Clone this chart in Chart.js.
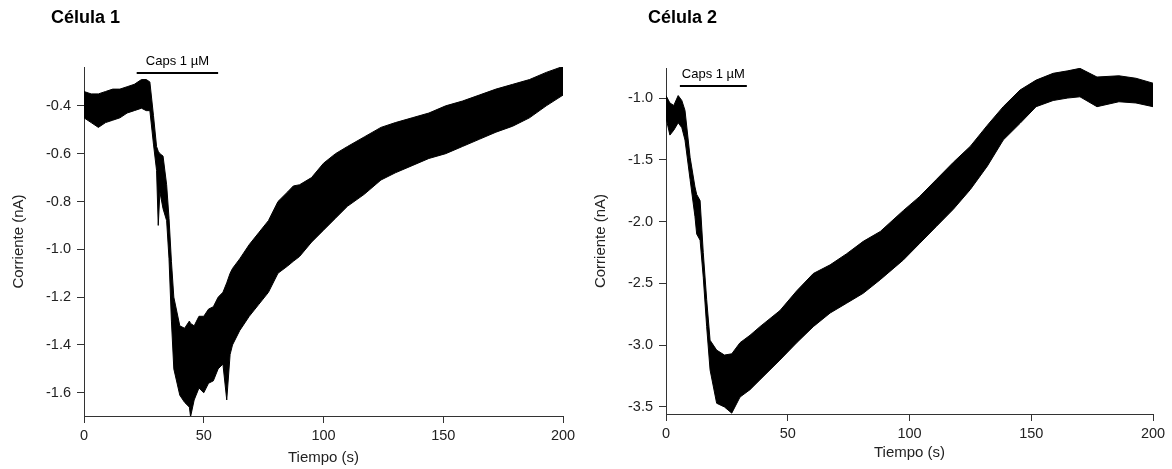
<!DOCTYPE html>
<html>
<head>
<meta charset="utf-8">
<script src="https://cdn.jsdelivr.net/npm/chart.js@4/dist/chart.umd.min.js"></script>
<style>
  body { margin: 0; background: #fff; }
  #wrap { position: relative; width: 1172px; height: 469px; }
  canvas { position: absolute; top: 0; }
</style>
</head>
<body>
<div id="wrap">
  <canvas id="cell1" width="586" height="469" style="left:0px"></canvas>
  <canvas id="cell2" width="586" height="469" style="left:586px"></canvas>
</div>
<script>
  // Célula 1: upper / lower edge of the noisy current trace
  const time1  = [0, 3, 6, 9, 12, 15, 18, 21, 24, 26, 27.5, 29, 30.3, 31, 31.7, 33, 34.5, 35.5, 36.5, 37.5,
                  40, 42, 44, 44.5, 46, 48, 50, 52, 54, 56, 58, 59.6, 61, 62, 65, 69, 73, 77, 81, 85, 87.4, 90, 95,
                  100, 105, 110, 117, 124, 130, 137, 144, 151, 158, 165, 172, 179, 186, 193, 200];
  const upper1 = [-0.34, -0.35, -0.35, -0.34, -0.33, -0.33, -0.32, -0.31, -0.29, -0.29, -0.30, -0.44, -0.57, -0.59, -0.60, -0.61, -0.73, -0.87, -1.05, -1.20,
                  -1.32, -1.33, -1.30, -1.31, -1.32, -1.28, -1.28, -1.25, -1.24, -1.20, -1.18, -1.14, -1.10, -1.08, -1.04, -0.98, -0.93, -0.88, -0.80, -0.76, -0.735, -0.73, -0.70,
                  -0.64, -0.60, -0.57, -0.53, -0.49, -0.47, -0.45, -0.43, -0.40, -0.38, -0.355, -0.33, -0.31, -0.29, -0.26, -0.235];
  const lower1 = [-0.45, -0.47, -0.49, -0.47, -0.46, -0.45, -0.43, -0.42, -0.41, -0.42, -0.42, -0.56, -0.67, -0.90, -0.76, -0.83, -0.88, -1.04, -1.30, -1.50,
                  -1.61, -1.64, -1.66, -1.70, -1.63, -1.58, -1.60, -1.56, -1.55, -1.50, -1.48, -1.63, -1.44, -1.40, -1.34, -1.28, -1.23, -1.18, -1.10, -1.07, -1.05, -1.03, -0.97,
                  -0.92, -0.87, -0.82, -0.77, -0.71, -0.68, -0.65, -0.62, -0.60, -0.57, -0.54, -0.51, -0.485, -0.45, -0.40, -0.355];
  const yTicks1 = [-0.4, -0.6, -0.8, -1.0, -1.2, -1.4, -1.6];
  const caps1 = [22, 56];

  // Célula 2
  const time2  = [0, 1.6, 3.2, 5, 6.5, 7.8, 9.9, 11.9, 12.6, 14, 15.3, 16.7, 18.1, 20.8, 24, 27, 30.4, 34.5, 38.6,
                  46.8, 53.7, 60.5, 67.4, 74.2, 81, 88, 97.5, 104, 111, 118, 125, 132, 138.5, 145.4,
                  152, 159, 165, 170, 177, 186, 193, 200];
  const upper2 = [-0.98, -1.04, -1.06, -0.98, -1.02, -1.10, -1.48, -1.72, -1.78, -1.83, -2.25, -2.63, -2.96, -3.04, -3.08, -3.07, -2.98, -2.92, -2.85,
                  -2.72, -2.56, -2.42, -2.35, -2.26, -2.16, -2.08, -1.91, -1.80, -1.66, -1.52, -1.39, -1.22, -1.07, -0.935,
                  -0.855, -0.80, -0.78, -0.76, -0.83, -0.82, -0.84, -0.88];
  const lower2 = [-1.16, -1.30, -1.26, -1.20, -1.24, -1.34, -1.66, -1.96, -2.10, -2.15, -2.45, -2.85, -3.20, -3.47, -3.50, -3.55, -3.42, -3.36, -3.28,
                  -3.12, -2.98, -2.85, -2.74, -2.66, -2.58, -2.47, -2.31, -2.18, -2.04, -1.90, -1.74, -1.55, -1.34, -1.205,
                  -1.07, -1.02, -1.00, -0.99, -1.07, -1.03, -1.04, -1.07];
  const yTicks2 = [-1.0, -1.5, -2.0, -2.5, -3.0, -3.5];
  const caps2 = [5.7, 33.2];

  const xTicks = [0, 50, 100, 150, 200];
  const FONT = "'Liberation Sans', Arial, sans-serif";
  const AXIS = '#333';

  // draws panel title and the drug label above the application bar
  const labels = {
    id: 'labels',
    afterDraw(chart, args, o) {
      const ctx = chart.ctx;
      ctx.save();
      ctx.fillStyle = '#000';
      ctx.font = 'bold 18px ' + FONT;
      ctx.textAlign = 'left';
      ctx.textBaseline = 'alphabetic';
      ctx.fillText(o.title, o.titleX, 23);
      ctx.font = '13px ' + FONT;
      ctx.textAlign = 'center';
      const xs = chart.scales.x, ys = chart.scales.y;
      ctx.fillText('Caps 1 µM', xs.getPixelForValue((o.caps[0] + o.caps[1]) / 2), ys.getPixelForValue(o.capsY) - 8);
      ctx.restore();
    }
  };

  function makeChart(id, t, hi, lo, yTicks, yMin, yMax, caps, capsY, box, title, titleX) {
    return new Chart(document.getElementById(id), {
      type: 'line',
      data: {
        datasets: [
          { data: t.map((x, i) => ({x: x, y: lo[i]})), borderColor: '#000', borderWidth: 1, pointRadius: 0, fill: false },
          { data: t.map((x, i) => ({x: x, y: hi[i]})), borderColor: '#000', borderWidth: 1, pointRadius: 0,
            fill: '-1', backgroundColor: '#000' },
          { data: [{x: caps[0], y: capsY}, {x: caps[1], y: capsY}], borderColor: '#000', borderWidth: 2,
            pointRadius: 0, fill: false, clip: false }
        ]
      },
      options: {
        responsive: false,
        animation: false,
        events: [],
        layout: { padding: { top: box.top, right: box.right } },
        plugins: {
          legend: { display: false },
          tooltip: { enabled: false },
          labels: { title: title, titleX: titleX, caps: caps, capsY: capsY }
        },
        scales: {
          x: {
            type: 'linear', min: 0, max: 200,
            afterFit: s => { s.height = box.xh; },
            afterBuildTicks: s => { s.ticks = xTicks.map(v => ({value: v})); },
            grid: { drawOnChartArea: false, tickLength: 7, color: AXIS },
            border: { color: AXIS, width: 1 },
            ticks: { color: '#222', font: { family: FONT, size: 14.5 }, padding: 4, maxRotation: 0 },
            title: { display: true, text: 'Tiempo (s)', color: '#222', font: { family: FONT, size: 15 }, padding: { bottom: box.xtp } }
          },
          y: {
            min: yMin, max: yMax,
            afterFit: s => { s.width = box.yw; },
            afterBuildTicks: s => { s.ticks = yTicks.map(v => ({value: v})); },
            grid: { drawOnChartArea: false, tickLength: 7, color: AXIS },
            border: { color: AXIS, width: 1 },
            ticks: { color: '#222', font: { family: FONT, size: 14.5 }, padding: 6, callback: v => v.toFixed(1) },
            title: { display: true, text: 'Corriente (nA)', color: '#222', font: { family: FONT, size: 15 }, padding: { top: box.ytp } }
          }
        }
      },
      plugins: [labels]
    });
  }

  makeChart('cell1', time1, upper1, lower1, yTicks1, -1.697, -0.2375, caps1, -0.2625,
    { top: 67, right: 23, xh: 53, yw: 84, xtp: 2, ytp: 9.5 }, 'Célula 1', 51);
  makeChart('cell2', time2, upper2, lower2, yTicks2, -3.557, -0.757, caps2, -0.903,
    { top: 68, right: 19, xh: 55, yw: 80, xtp: 7, ytp: 6 }, 'Célula 2', 62);
</script>
</body>
</html>
